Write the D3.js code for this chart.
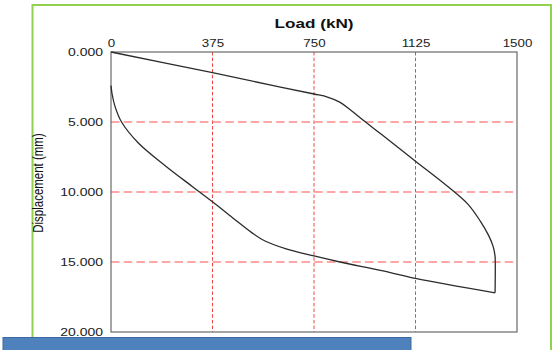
<!DOCTYPE html>
<html>
<head>
<meta charset="utf-8">
<script src="https://cdn.jsdelivr.net/npm/d3@7"></script>
<style>
  body { margin: 0; background: #fff; }
  svg { display: block; }
  text { font-family: "Liberation Sans", Arial, sans-serif; }
</style>
</head>
<body>
<script>
// load-displacement data
var loadTicks = [0, 375, 750, 1125, 1500];
var dispTicks = [0, 5, 10, 15, 20];

// loading branch (kN, mm)
var loadingLoad = [0, 375, 600, 750, 800, 845, 885, 932, 1000, 1125, 1250, 1320, 1365, 1395, 1412, 1419, 1419];
var loadingDisp = [0, 1.48, 2.4, 3.0, 3.22, 3.58, 4.15, 4.88, 5.9, 7.8, 9.7, 10.9, 12.1, 13.1, 13.9, 14.6, 17.2];

// unloading branch
var unloadLoad = [1419, 1125, 1000, 846, 750, 650, 569, 520, 450, 375, 300, 199, 101, 39, 15, 4, 0];
var unloadDisp = [17.2, 16.17, 15.62, 15.0, 14.57, 14.08, 13.5, 12.9, 11.85, 10.7, 9.6, 8.1, 6.5, 5.0, 3.9, 3.0, 2.4];

var width = 553, height = 350;
var sx = 1.27; // picture is stretched sideways

var svg = d3.select('body').append('svg')
  .attr('width', width)
  .attr('height', height);

// green frame
svg.append('rect')
  .attr('x', 32.5).attr('y', 5)
  .attr('width', 518.5).attr('height', 360)
  .attr('fill', 'none')
  .attr('stroke', '#92d050')
  .attr('stroke-width', 2);

var x = d3.scaleLinear().domain([0, 1500]).range([111, 517]);
var y = d3.scaleLinear().domain([0, 20]).range([52, 332]);

// grid lines
svg.selectAll('.vgrid')
  .data(loadTicks.slice(1, 4))
  .enter().append('line')
  .attr('class', 'vgrid')
  .attr('x1', d => x(d)).attr('x2', d => x(d))
  .attr('y1', y(0)).attr('y2', y(20))
  .attr('stroke', '#f04545')
  .attr('stroke-width', 1)
  .attr('stroke-dasharray', '3.5,2.2');

svg.selectAll('.hgrid')
  .data(dispTicks.slice(1, 4))
  .enter().append('line')
  .attr('class', 'hgrid')
  .attr('x1', x(0)).attr('x2', 514)
  .attr('y1', d => y(d)).attr('y2', d => y(d))
  .attr('stroke', '#ff8a8a')
  .attr('stroke-width', 1.3)
  .attr('stroke-dasharray', '8.5,4.2');

// plot frame
svg.append('rect')
  .attr('x', x(0)).attr('y', y(0))
  .attr('width', x(1500) - x(0))
  .attr('height', y(20) - y(0))
  .attr('fill', 'none')
  .attr('stroke', '#6a6a6a')
  .attr('stroke-width', 1.2);

// axes
var xAxis = svg.append('g')
  .attr('transform', 'translate(0,' + y(0) + ')')
  .call(d3.axisTop(x).tickValues(loadTicks).tickSize(0).tickFormat(d3.format('d')));
xAxis.select('.domain').remove();
xAxis.selectAll('text')
  .attr('y', -5)
  .attr('dy', 0)
  .attr('font-size', 10.5)
  .attr('fill', '#222')
  .attr('transform', 'scale(' + sx + ',1)');

var yAxis = svg.append('g')
  .attr('transform', 'translate(' + x(0) + ',0)')
  .call(d3.axisLeft(y).tickValues(dispTicks).tickSize(0).tickFormat(d3.format('.3f')));
yAxis.select('.domain').remove();
yAxis.selectAll('text')
  .attr('x', -8 / sx)
  .attr('dy', '0.36em')
  .attr('font-size', 11)
  .attr('fill', '#222')
  .attr('transform', 'scale(' + sx + ',1)');

// titles
svg.append('text')
  .attr('transform', 'translate(314,27.5) scale(' + sx + ',1)')
  .attr('text-anchor', 'middle')
  .attr('font-size', 13.5)
  .attr('font-weight', 'bold')
  .attr('fill', '#111')
  .text('Load (kN)');

svg.append('text')
  .attr('transform', 'translate(42.5,183) scale(' + sx + ',1) rotate(-90)')
  .attr('text-anchor', 'middle')
  .attr('font-size', 11.5)
  .attr('fill', '#111')
  .text('Displacement (mm)');

// curves
var line = d3.line()
  .x(d => x(d[0]))
  .y(d => y(d[1]))
  .curve(d3.curveCatmullRom.alpha(0.5));

var loadingPts = loadingLoad.map((v, i) => [v, loadingDisp[i]]);
var unloadPts = unloadLoad.map((v, i) => [v, unloadDisp[i]]);

[loadingPts, unloadPts].forEach(pts => {
  svg.append('path')
    .datum(pts)
    .attr('d', line)
    .attr('fill', 'none')
    .attr('stroke', '#2b2b2b')
    .attr('stroke-width', 1.3);
});

// blue bar at the bottom
svg.append('rect')
  .attr('x', 3).attr('y', 337.5)
  .attr('width', 408).attr('height', 20)
  .attr('fill', '#4f81bd')
  .attr('stroke', '#3b6aa3')
  .attr('stroke-width', 1);
</script>
</body>
</html>
